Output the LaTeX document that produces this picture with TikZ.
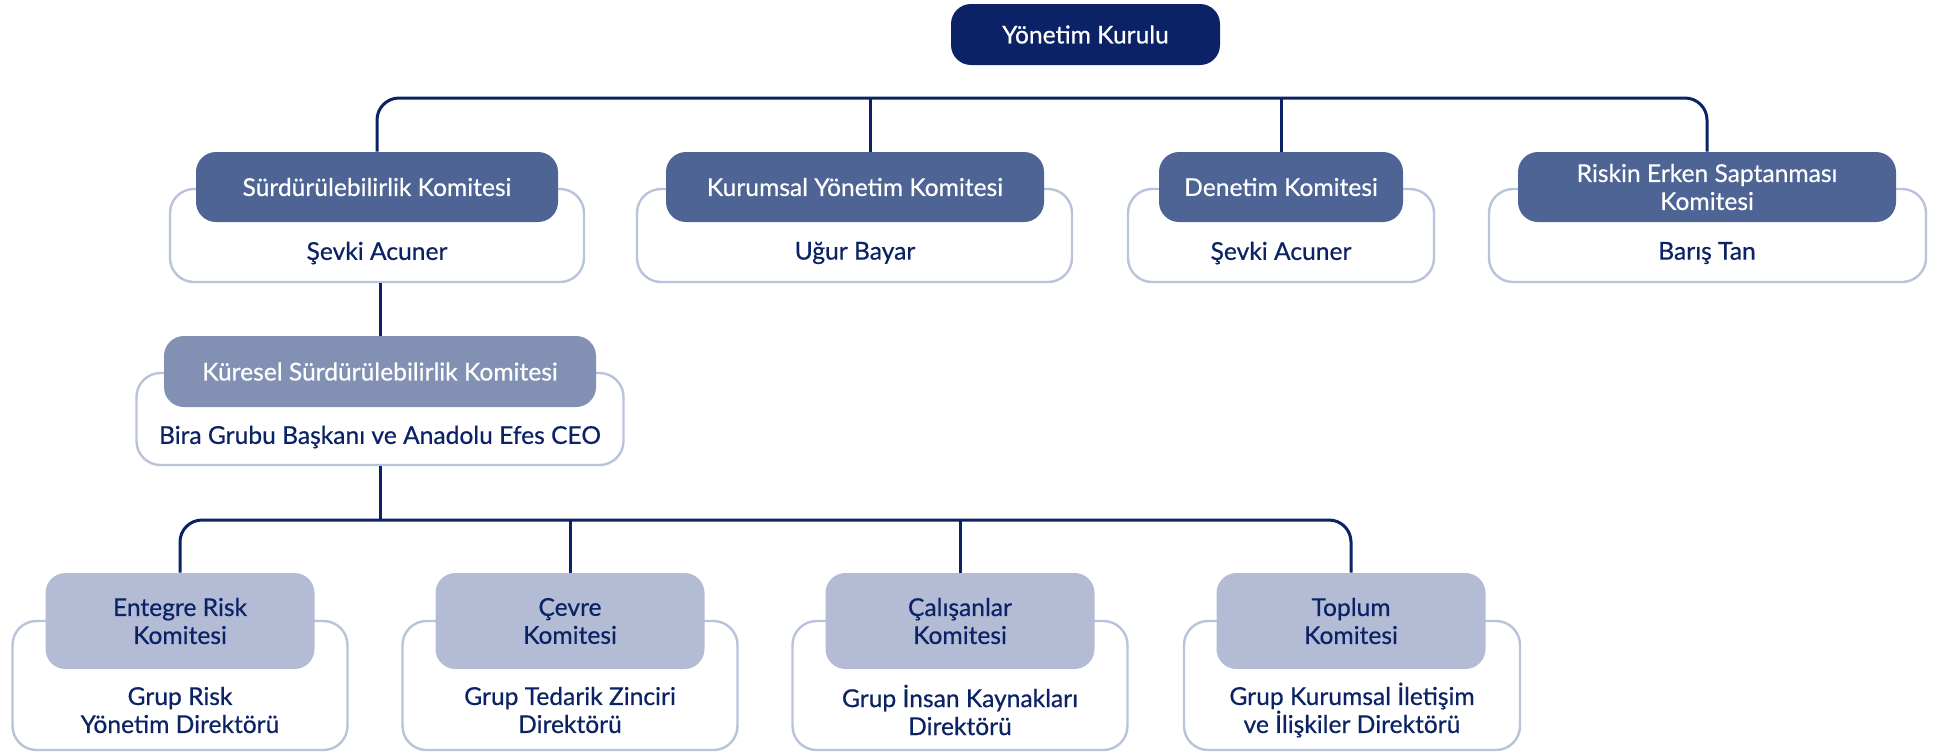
\documentclass[tikz,border=0pt]{standalone}
\usepackage{fontspec}
\setmainfont{Lato}[FakeBold=0.5]
\usepackage{tikz}
\usetikzlibrary{positioning}

\definecolor{navy}{HTML}{0B2366}
\definecolor{midblue}{HTML}{4D6494}
\definecolor{softblue}{HTML}{8291B3}
\definecolor{paleblue}{HTML}{B3BCD4}
\definecolor{rimblue}{HTML}{B9C3DA}

\begin{document}
\begin{tikzpicture}[x=0.5pt,y=-0.5pt,
		every node/.style={font=\fontsize{12.3}{14}\selectfont, align=center, inner sep=0pt},
		board/.style={fill=navy, text=white, rounded corners=10pt, minimum width=134.5pt, minimum height=30.5pt},
		head/.style={fill=midblue, text=white, rounded corners=10pt, minimum height=35pt},
		subhead/.style={fill=paleblue, text=navy, rounded corners=10pt, minimum width=134.5pt, minimum height=48pt},
		member/.style={draw=rimblue, line width=1.2pt, fill=white, rounded corners=12pt},
		who/.style={text=navy},
		conn/.style={draw=navy, line width=1.5pt, rounded corners=11pt}]
				\useasboundingbox (0,0) rectangle (1937,752);
				\node[board] (yk) at (1085.5,34.5) {Yönetim Kurulu};
				\coordinate (bus) at (1085,98);
				% first row of committees
				\node[member, minimum width=207pt, minimum height=46.5pt] (sk_m) at (377,235.5) {};
				\node[head, minimum width=181pt] (sk) at (377,187) {Sürdürülebilirlik Komitesi};
				\node[who] (sk_n) at (377,253) {Şevki Acuner};
				\node[member, minimum width=217.5pt, minimum height=46.5pt] (kk_m) at (854.5,235.5) {};
				\node[head, minimum width=189pt] (kk) at (855,187) {Kurumsal Yönetim Komitesi};
				\node[who] (kk_n) at (855,253) {Uğur Bayar};
				\node[member, minimum width=153pt, minimum height=46.5pt] (dk_m) at (1281,235.5) {};
				\node[head, minimum width=122pt] (dk) at (1281,187) {Denetim Komitesi};
				\node[who] (dk_n) at (1281,253) {Şevki Acuner};
				\node[member, minimum width=218.5pt, minimum height=46.5pt] (rk_m) at (1707.5,235.5) {};
				\node[head, minimum width=189pt] (rk) at (1707,187) {Riskin Erken Saptanması\\Komitesi};
				\node[who] (rk_n) at (1707,253) {Barış Tan};
				% global committee
				\node[member, minimum width=243.5pt, minimum height=46pt] (ks_m) at (380,419) {};
				\node[head, fill=softblue, minimum width=216pt, minimum height=35.5pt] (ks) at (380,371.5) {Küresel Sürdürülebilirlik Komitesi};
				\node[who] (ks_n) at (380,437) {Bira Grubu Başkanı ve Anadolu Efes CEO};
				\coordinate (bus2) at (765,520);
				% second row
				\node[member, minimum width=167.5pt, minimum height=64.5pt] (er_m) at (180,685.5) {};
				\node[subhead] (er) at (180,621) {Entegre Risk\\Komitesi};
				\node[who] (er_n) at (180,710) {Grup Risk\\Yönetim Direktörü};
				\node[member, minimum width=167.5pt, minimum height=64.5pt] (cv_m) at (570,685.5) {};
				\node[subhead] (cv) at (570,621) {Çevre\\Komitesi};
				\node[who] (cv_n) at (570,710) {Grup Tedarik Zinciri\\Direktörü};
				\node[member, minimum width=167.5pt, minimum height=64.5pt] (cl_m) at (960,685.5) {};
				\node[subhead] (cl) at (960,621) {Çalışanlar\\Komitesi};
				\node[who] (cl_n) at (960,710) {Grup İnsan Kaynakları\\Direktörü};
				\node[member, minimum width=168pt, minimum height=64.5pt] (tp_m) at (1352,685.5) {};
				\node[subhead] (tp) at (1351,621) {Toplum\\Komitesi};
				\node[who] (tp_n) at (1352,710) {Grup Kurumsal İletişim\\ve İlişkiler Direktörü};
				% connectors
				\draw[conn] (sk.north) -- (sk.north |- bus) -- (rk.north |- bus) -- (rk.north);
				\draw[conn] ([xshift=7.5pt]kk.north |- bus) -- ([xshift=7.5pt]kk.north);
				\draw[conn] (dk.north |- bus) -- (dk.north);
				\draw[conn] (ks.north |- sk_m.south) -- (ks.north);
				\draw[conn] (ks_m.south) -- (ks_m.south |- bus2);
				\draw[conn] (er.north) -- (er.north |- bus2) -- (tp.north |- bus2) -- (tp.north);
				\draw[conn] (cv.north |- bus2) -- (cv.north);
				\draw[conn] (cl.north |- bus2) -- (cl.north);
			\end{tikzpicture}
\end{document}
